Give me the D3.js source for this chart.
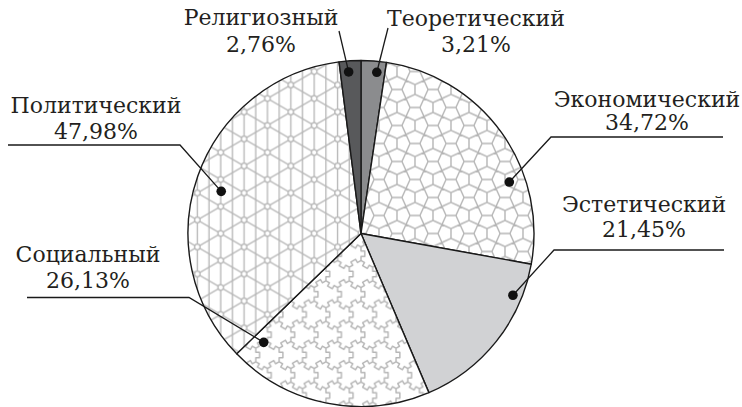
<!DOCTYPE html>
<html>
<head>
<meta charset="utf-8">
<script src="https://cdn.jsdelivr.net/npm/d3@7"></script>
<style>
  body { margin: 0; background: #fff; }
  text { font-family: "DejaVu Serif", serif; fill: #231f20; }
</style>
</head>
<body>
<div id="chart"></div>
<script>
// data, clockwise from 12 o'clock
const categories = ["Теоретический", "Экономический", "Эстетический", "Социальный", "Политический", "Религиозный"];
const values = [3.21, 34.72, 21.45, 26.13, 47.98, 2.76];
const fills = ["#8b8c8e", "url(#econ)", "#d1d2d4", "url(#social)", "url(#polit)", "#58595b"];

// label placement: text centre / baselines, dot position inside slice, leader line points
const labelLayout = [
  { x: 476, y1: 26, y2: 52, t: 0.66, r: 162, line: [[388, 28]] },
  { x: 647, y1: 107, y2: 130, t: 0.68, r: 157, line: [[723, 137], [551, 137]] },
  { x: 644, y1: 212, y2: 237, t: 0.21, r: 164, line: [[724, 250], [554, 250]] },
  { x: 88, y1: 262, y2: 288, t: 0.94, r: 146, line: [[27, 297.5], [189, 297.5]] },
  { x: 96, y1: 113, y2: 139, t: 0.48, r: 146, line: [[8, 145], [180, 145]] },
  { x: 261, y1: 25, y2: 52, t: 0.40, r: 162, line: [[339, 31]] }
];

const width = 742, height = 407;
const cx = 361, cy = 233.5, radius = 173;
const fmt = v => d3.format(".2f")(v).replace(".", ",") + "%";

const svg = d3.select("#chart").append("svg")
  .attr("width", width)
  .attr("height", height);

const defs = svg.append("defs");
const patStroke = "#b5b5b5";

// political: triangular lattice with rings at the nodes
(function () {
  const L = 27, H = L * Math.sqrt(3) / 2;
  const p = defs.append("pattern").attr("id", "polit")
    .attr("patternUnits", "userSpaceOnUse")
    .attr("width", 2 * H).attr("height", L);
  p.append("rect").attr("width", 2 * H).attr("height", L).attr("fill", "#fff");
  const g = p.append("g").attr("stroke", patStroke).attr("stroke-width", 1.3).attr("fill", "none");
  for (let k = -2; k <= 4; k++) {
    g.append("line").attr("x1", k * H / 2).attr("y1", -5).attr("x2", k * H / 2).attr("y2", L + 5);
  }
  const slope = Math.tan(Math.PI / 6);
  for (let k = -3; k <= 3; k++) {
    const y0 = k * L;
    g.append("line").attr("x1", 0).attr("y1", y0).attr("x2", 2 * H).attr("y2", y0 + 2 * H * slope);
    g.append("line").attr("x1", 0).attr("y1", y0).attr("x2", 2 * H).attr("y2", y0 - 2 * H * slope);
  }
  const nodes = [[0, 0], [0, L], [2 * H, 0], [2 * H, L], [H, L / 2]];
  nodes.forEach(n => {
    g.append("circle").attr("cx", n[0]).attr("cy", n[1]).attr("r", 2.8).attr("fill", "#fff");
  });
})();

// economic: cairo pentagonal tiling
(function () {
  const u = 18, t = 0.274;
  const p = defs.append("pattern").attr("id", "econ")
    .attr("patternUnits", "userSpaceOnUse")
    .attr("width", 2 * u).attr("height", 2 * u);
  p.append("rect").attr("width", 2 * u).attr("height", 2 * u).attr("fill", "#fff");
  let d = "";
  const seg = (a, b) => { d += `M${a[0] * u},${a[1] * u}L${b[0] * u},${b[1] * u}`; };
  for (let a = -1; a <= 3; a++) {
    for (let b = -1; b <= 3; b++) {
      if (((a + b) % 2 + 2) % 2 === 0) seg([a - t, b], [a + t, b]);
      else seg([a, b - t], [a, b + t]);
    }
  }
  for (let i = -1; i <= 2; i++) {
    for (let j = -1; j <= 2; j++) {
      const c = [i + 0.5, j + 0.5];
      [[i, j], [i + 1, j], [i, j + 1], [i + 1, j + 1]].forEach(([a, b]) => {
        const e = ((a + b) % 2 + 2) % 2 === 0
          ? [a + t * Math.sign(c[0] - a), b]
          : [a, b + t * Math.sign(c[1] - b)];
        seg(c, e);
      });
    }
  }
  p.append("path").attr("d", d).attr("stroke", patStroke).attr("stroke-width", 1.4).attr("fill", "none");
})();

// social: honeycomb with alternating bumps (trefoil tiles)
(function () {
  const R = 13.5, W = Math.sqrt(3) * R;
  const p = defs.append("pattern").attr("id", "social")
    .attr("patternUnits", "userSpaceOnUse")
    .attr("width", W).attr("height", 3 * R);
  p.append("rect").attr("width", W).attr("height", 3 * R).attr("fill", "#fff");
  const k = 0.28;
  let d = "";
  for (let j = -1; j <= 3; j++) {
    for (let i = -1; i <= 2; i++) {
      const hx = i * W + (Math.abs(j) % 2 ? W / 2 : 0), hy = j * 1.5 * R;
      const v = d3.range(6).map(m => {
        const ang = (-90 + 60 * m) * Math.PI / 180;
        return [hx + R * Math.cos(ang), hy + R * Math.sin(ang)];
      });
      for (let m = 0; m < 6; m++) {
        // orient every edge from the "A" vertex (even index) to the "B" vertex
        let a = v[m], b = v[(m + 1) % 6];
        if (m % 2 === 1) { const tmp = a; a = b; b = tmp; }
        const dx = b[0] - a[0], dy = b[1] - a[1];
        const nx = -dy * k, ny = dx * k;
        const p1 = [a[0] + dx * 0.3, a[1] + dy * 0.3];
        const p2 = [a[0] + dx * 0.7, a[1] + dy * 0.7];
        d += `M${a}L${p1}L${p1[0] + nx},${p1[1] + ny}L${p2[0] + nx},${p2[1] + ny}L${p2}L${b}`;
      }
    }
  }
  p.append("path").attr("d", d).attr("stroke", patStroke).attr("stroke-width", 1.4)
    .attr("fill", "none").attr("stroke-linejoin", "round");
})();

const pie = d3.pie().sort(null).value(d => d);
const arcs = pie(values);
const arc = d3.arc().innerRadius(0).outerRadius(radius);

const g = svg.append("g").attr("transform", `translate(${cx},${cy})`);

g.selectAll("path.slice")
  .data(arcs)
  .enter()
  .append("path")
  .attr("class", "slice")
  .attr("d", arc)
  .attr("fill", (d, i) => fills[i])
  .attr("stroke", "#1a1a1a")
  .attr("stroke-width", 1.4)
  .attr("stroke-linejoin", "round");

// dots inside slices
const dotPos = arcs.map((d, i) => {
  const lay = labelLayout[i];
  const a = d.startAngle + lay.t * (d.endAngle - d.startAngle);
  return [cx + lay.r * Math.sin(a), cy - lay.r * Math.cos(a)];
});

const lineGen = d3.line();
svg.selectAll("path.leader")
  .data(labelLayout)
  .enter()
  .append("path")
  .attr("class", "leader")
  .attr("d", (d, i) => lineGen(d.line.concat([dotPos[i]])))
  .attr("fill", "none")
  .attr("stroke", "#1a1a1a")
  .attr("stroke-width", 1.3);

svg.selectAll("circle.dot")
  .data(dotPos)
  .enter()
  .append("circle")
  .attr("class", "dot")
  .attr("cx", d => d[0])
  .attr("cy", d => d[1])
  .attr("r", 4.8)
  .attr("fill", "#111");

const labels = svg.selectAll("g.label")
  .data(labelLayout)
  .enter()
  .append("g")
  .attr("class", "label")
  .style("font-size", "22px")
  .attr("text-anchor", "middle");

labels.append("text")
  .attr("x", d => d.x)
  .attr("y", d => d.y1)
  .text((d, i) => categories[i]);

labels.append("text")
  .attr("x", d => d.x)
  .attr("y", d => d.y2)
  .text((d, i) => fmt(values[i]));
</script>
</body>
</html>
